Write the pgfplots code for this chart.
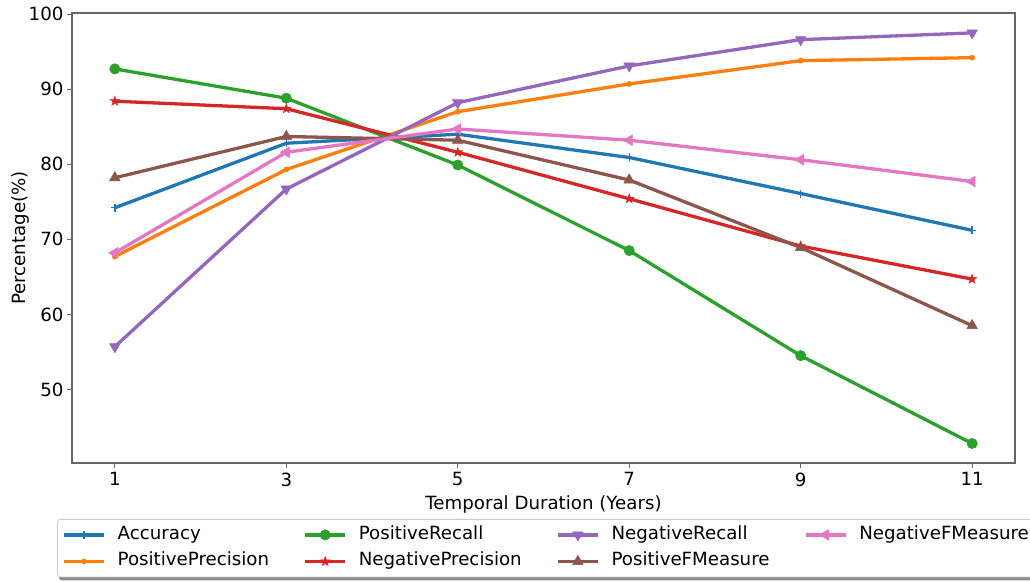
\documentclass[border=0pt]{standalone}
\usepackage{fontspec}
\setmainfont{DejaVu Sans}
\usepackage{pgfplots}
\usepackage{pgfplotstable}
\pgfplotsset{compat=1.18}
\usetikzlibrary{plotmarks}
\pgfdeclarelayer{background}
\pgfsetlayers{background,main}

\definecolor{cA}{HTML}{1F77B4}
\definecolor{cB}{HTML}{FF7F0E}
\definecolor{cC}{HTML}{2CA02C}
\definecolor{cD}{HTML}{D62728}
\definecolor{cE}{HTML}{9467BD}
\definecolor{cF}{HTML}{8C564B}
\definecolor{cG}{HTML}{E377C2}

% filled five-pointed star
\pgfdeclareplotmark{fstar}{%
  \pgfpathmoveto{\pgfpointpolar{90}{\pgfplotmarksize}}%
  \pgfpathlineto{\pgfpointpolar{126}{0.382\pgfplotmarksize}}%
  \pgfpathlineto{\pgfpointpolar{162}{\pgfplotmarksize}}%
  \pgfpathlineto{\pgfpointpolar{198}{0.382\pgfplotmarksize}}%
  \pgfpathlineto{\pgfpointpolar{234}{\pgfplotmarksize}}%
  \pgfpathlineto{\pgfpointpolar{270}{0.382\pgfplotmarksize}}%
  \pgfpathlineto{\pgfpointpolar{306}{\pgfplotmarksize}}%
  \pgfpathlineto{\pgfpointpolar{342}{0.382\pgfplotmarksize}}%
  \pgfpathlineto{\pgfpointpolar{18}{\pgfplotmarksize}}%
  \pgfpathlineto{\pgfpointpolar{54}{0.382\pgfplotmarksize}}%
  \pgfpathclose
  \pgfusepathqfillstroke
}

% Scores (%) for each temporal duration (years)
\pgfplotstableread{
x  Acc   PPrec PRec  NPrec NRec  PF    NF
1  74.2  67.7  92.7  88.4  55.7  78.2  68.2
3  82.8  79.3  88.8  87.4  76.7  83.7  81.6
5  84.0  87.0  79.9  81.6  88.2  83.2  84.7
7  80.9  90.7  68.5  75.4  93.1  77.9  83.2
9  76.1  93.8  54.5  69.1  96.6  68.9  80.6
11 71.2  94.2  42.8  64.7  97.5  58.5  77.7
}\scores

\pgfplotsset{
  base/.style={line width=3.3pt, line join=round},
  sAcc/.style={base, color=cA, mark=+, mark size=4pt, mark options={solid, line width=1.3pt}},
  sPPrec/.style={base, color=cB, mark=*, mark size=2.6pt, mark options={solid, fill=cB, line width=0.5pt}},
  sPRec/.style={base, color=cC, mark=*, mark size=5.2pt, mark options={solid, fill=cC, line width=0.5pt}},
  sNPrec/.style={base, color=cD, mark=fstar, mark size=5pt, mark options={solid, fill=cD, line width=0.5pt, line join=miter}},
  sNRec/.style={base, color=cE, mark=triangle*, mark size=6.2pt, mark options={solid, fill=cE, rotate=180, line width=0.5pt}},
  sPF/.style={base, color=cF, mark=triangle*, mark size=6.2pt, mark options={solid, fill=cF, line width=0.5pt}},
  sNF/.style={base, color=cG, mark=triangle*, mark size=6.2pt, mark options={solid, fill=cG, rotate=90, line width=0.5pt}},
}

\begin{document}
\begin{tikzpicture}[font=\fontsize{18.2pt}{21.8pt}\selectfont]
\begin{axis}[
  at={(72pt,118pt)}, anchor=south west,
  scale only axis, width=943pt, height=450pt,
  xmin=0.5, xmax=11.5, ymin=40.2, ymax=100.15,
  xtick={1,3,5,7,9,11}, ytick={50,60,70,80,90,100},
  tick pos=left, tick align=outside, major tick length=5pt,
  axis line style={black!60, line width=1.1pt},
  tick style={black!60, line width=1.1pt},
  /pgf/number format/assume math mode=true,
  xticklabel style={anchor=north, yshift=-1pt},
  yticklabel style={anchor=east, xshift=0pt},
  xlabel={Temporal Duration (Years)},
  ylabel={Percentage(\%)},
  xlabel style={at={(axis description cs:0.5,-0.093)}, anchor=center},
  ylabel style={at={(axis description cs:-0.0551,0.5)}, anchor=center},
  legend columns=4,
  legend cell align=left,
  legend image code/.code={\draw[mark repeat=2, mark phase=2] plot coordinates {(0pt,0pt) (20pt,0pt) (40pt,0pt)};},
  legend style={
    name=leg,
    at={(axis description cs:-0.0159,-0.1244)}, anchor=north west,
    draw=black!20, line width=0.8pt, fill=white, rounded corners=3pt,
    inner xsep=5pt, inner ysep=7pt, row sep=9.6pt,
    nodes={inner sep=0pt, text height=13pt, text depth=4pt},
    /tikz/every odd column/.append style={column sep=12pt},
    /tikz/every even column/.append style={column sep=34.5pt},
  },
]
% lines, drawn in series order
\addplot[sAcc, forget plot]   table[x=x, y=Acc]   {\scores};
\addplot[sPPrec, forget plot] table[x=x, y=PPrec] {\scores};
\addplot[sPRec, forget plot]  table[x=x, y=PRec]  {\scores};
\addplot[sNPrec, forget plot] table[x=x, y=NPrec] {\scores};
\addplot[sNRec, forget plot]  table[x=x, y=NRec]  {\scores};
\addplot[sPF, forget plot]    table[x=x, y=PF]    {\scores};
\addplot[sNF, forget plot]    table[x=x, y=NF]    {\scores};
% legend, filled row by row
\addlegendimage{sAcc}   \addlegendentry{Accuracy}
\addlegendimage{sPRec}  \addlegendentry{PositiveRecall}
\addlegendimage{sNRec}  \addlegendentry{NegativeRecall}
\addlegendimage{sNF}    \addlegendentry{NegativeFMeasure}
\addlegendimage{sPPrec} \addlegendentry{PositivePrecision}
\addlegendimage{sNPrec} \addlegendentry{NegativePrecision}
\addlegendimage{sPF}    \addlegendentry{PositiveFMeasure}
\end{axis}
% shadow behind the legend box
\begin{pgfonlayer}{background}
\fill[black!45, rounded corners=3pt] ([xshift=2pt,yshift=-3pt]leg.south west) rectangle ([xshift=2pt,yshift=-3pt]leg.north east);
\end{pgfonlayer}
\pgfresetboundingbox
\path[use as bounding box] (0pt,0pt) rectangle (1030pt,581pt);
\end{tikzpicture}
\end{document}
